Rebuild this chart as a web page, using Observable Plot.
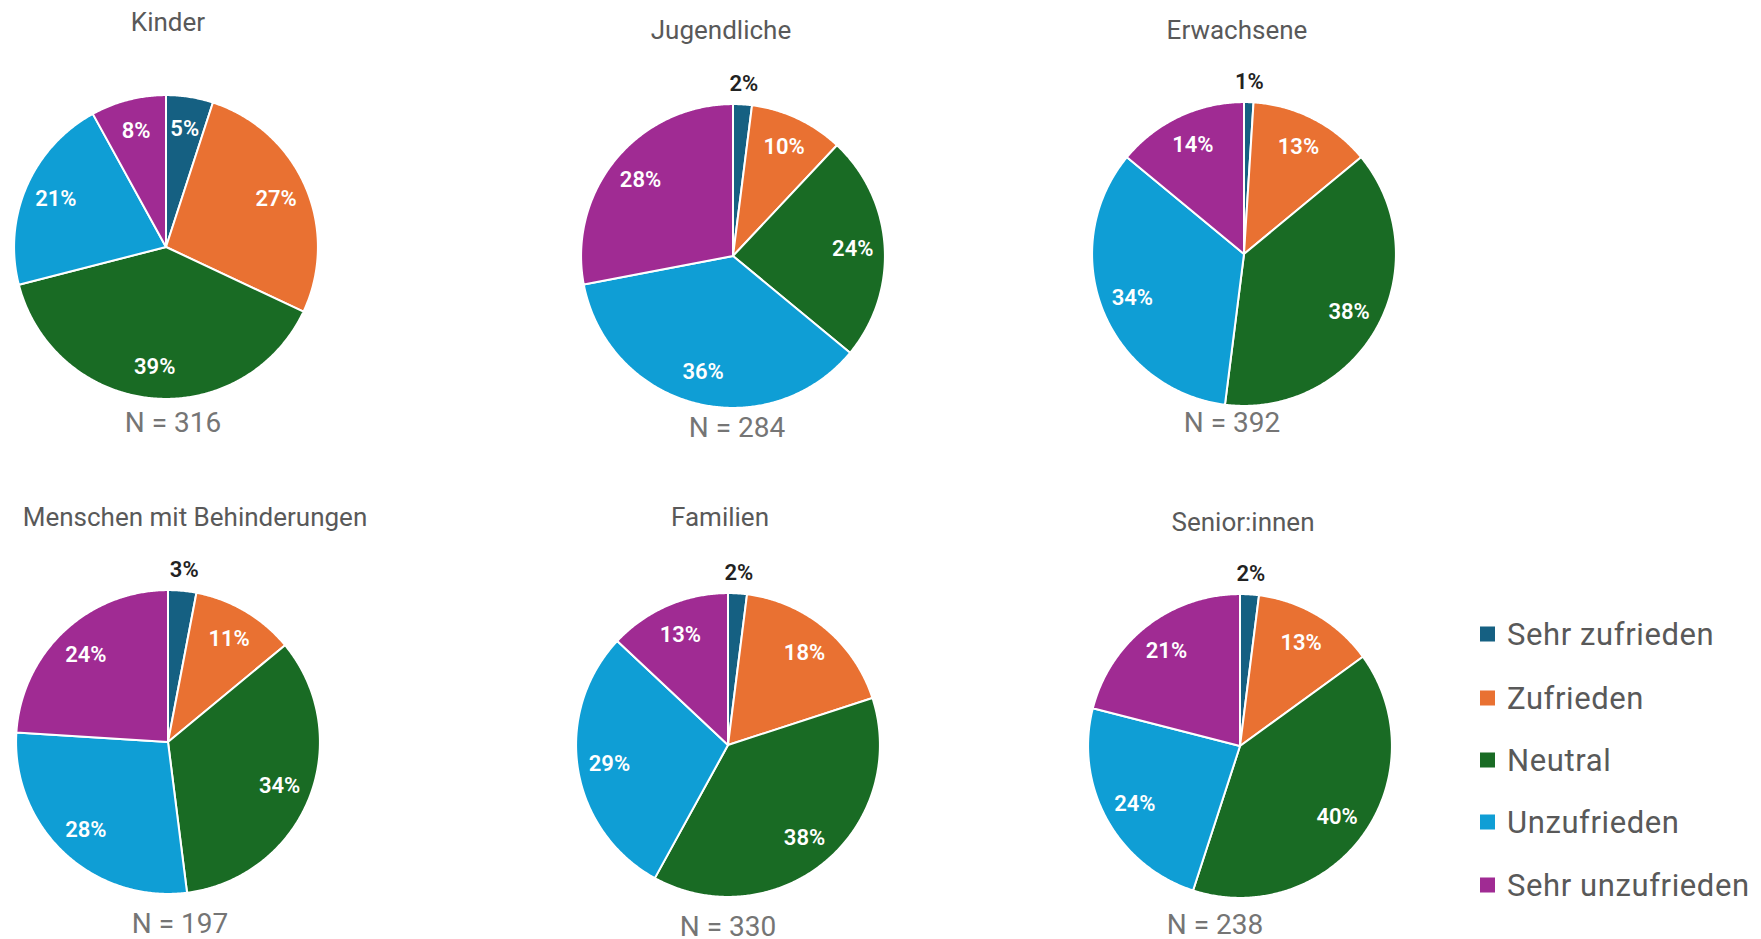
<!DOCTYPE html>
<html>
<head>
<meta charset="utf-8">
<script src="https://cdn.jsdelivr.net/npm/d3@7"></script>
<script src="https://cdn.jsdelivr.net/npm/@observablehq/plot@0.6"></script>
<style>
  html, body { margin: 0; padding: 0; background: #fff; }
  #root { position: relative; width: 1761px; height: 939px; overflow: hidden; font-family: Roboto, "Open Sans", sans-serif; }
  .title { position: absolute; transform: translate(-50%, -50%); white-space: nowrap; font-size: 26px; font-weight: 400; color: #595959; }
  .nlab { position: absolute; transform: translate(-50%, -50%); white-space: nowrap; font-size: 28px; color: #757575; }
  .pie { position: absolute; }
  .legend { position: absolute; left: 1480px; top: 0; }
  .legend .item { position: absolute; left: 0; white-space: nowrap; display: flex; align-items: center; font-size: 31px; letter-spacing: 0.6px; color: #595959; transform: translateY(-50%); }
  .legend .sw { width: 15px; height: 15px; margin-right: 12px; }
</style>
</head>
<body>
<div id="root"></div>
<script>
// ---- data ----
const categories = ["Sehr zufrieden", "Zufrieden", "Neutral", "Unzufrieden", "Sehr unzufrieden"];
const colors = ["#156082", "#E97132", "#196B24", "#0F9ED5", "#A02B93"];
const groups = ["Kinder", "Jugendliche", "Erwachsene", "Menschen mit Behinderungen", "Familien", "Senior:innen"];
const nValues = [316, 284, 392, 197, 330, 238];
const kinder = [5, 27, 39, 21, 8];
const jugendliche = [2, 10, 24, 36, 28];
const erwachsene = [1, 13, 38, 34, 14];
const behinderungen = [3, 11, 34, 28, 24];
const familien = [2, 18, 38, 29, 13];
const seniorinnen = [2, 13, 40, 24, 21];
const seriesValues = [kinder, jugendliche, erwachsene, behinderungen, familien, seniorinnen];

// ---- layout (pixel placement of each panel) ----
const layout = [
  {cx: 165, cy: 246, tx: 168, ty: 22, nx: 173, ny: 422},
  {cx: 732, cy: 255, tx: 721, ty: 30, nx: 737, ny: 427},
  {cx: 1243, cy: 253, tx: 1237, ty: 30, nx: 1232, ny: 422},
  {cx: 167, cy: 741, tx: 195, ty: 517, nx: 180, ny: 923},
  {cx: 727, cy: 744, tx: 720, ty: 517, nx: 728, ny: 926},
  {cx: 1239, cy: 745, tx: 1243, ty: 522, nx: 1215, ny: 924}
];
const R = 152;          // pie radius in px
const K = 1.3;          // half-extent of the unit domain
const SIZE = Math.round(2 * R * K);
const legendY = [634, 698, 760, 822, 885];

const root = document.getElementById("root");

groups.forEach((g, gi) => {
  const vals = seriesValues[gi];
  const total = d3.sum(vals);
  const L = layout[gi];
  // wedges in unit coordinates (angle measured clockwise from top)
  const pts = [];
  const labels = [];
  let acc = 0;
  vals.forEach((v, i) => {
    const a0 = acc / total * 2 * Math.PI;
    const a1 = (acc + v) / total * 2 * Math.PI;
    acc += v;
    const key = categories[i];
    pts.push({key, x: 0, y: 0});
    const steps = Math.max(2, Math.ceil((a1 - a0) / (Math.PI / 360)));
    for (let s = 0; s <= steps; s++) {
      const a = a0 + (a1 - a0) * s / steps;
      pts.push({key, x: Math.sin(a), y: Math.cos(a)});
    }
    pts.push({key, x: 0, y: 0});
    const am = (a0 + a1) / 2;
    const inside = v >= 4;
    const rr = inside ? 0.79 : 1.135;
    labels.push({key, text: v + "%", inside, x: rr * Math.sin(am), y: rr * Math.cos(am)});
  });

  const chart = Plot.plot({
    width: SIZE, height: SIZE, margin: 0,
    x: {domain: [-K, K], axis: null},
    y: {domain: [-K, K], axis: null},
    color: {domain: categories, range: colors},
    style: {background: "transparent", overflow: "visible"},
    marks: [
      Plot.line(pts, {x: "x", y: "y", z: "key", fill: "key", stroke: "white", strokeWidth: 2, strokeLinejoin: "round"}),
      Plot.text(labels.filter(d => d.inside), {x: "x", y: "y", text: "text", fill: "white", fontSize: 22, fontWeight: 600, fontFamily: "Roboto, sans-serif"}),
      Plot.text(labels.filter(d => !d.inside), {x: "x", y: "y", text: "text", fill: "#222", fontSize: 22, fontWeight: 600, fontFamily: "Roboto, sans-serif"})
    ]
  });
  chart.classList.add("pie");
  chart.style.left = (L.cx - SIZE / 2) + "px";
  chart.style.top = (L.cy - SIZE / 2) + "px";
  root.appendChild(chart);

  const t = document.createElement("div");
  t.className = "title";
  t.textContent = g;
  t.style.left = L.tx + "px";
  t.style.top = L.ty + "px";
  root.appendChild(t);

  const n = document.createElement("div");
  n.className = "nlab";
  n.textContent = "N = " + nValues[gi];
  n.style.left = L.nx + "px";
  n.style.top = L.ny + "px";
  root.appendChild(n);
});

// legend
const lg = document.createElement("div");
lg.className = "legend";
categories.forEach((c, i) => {
  const it = document.createElement("div");
  it.className = "item";
  it.style.top = legendY[i] + "px";
  const sw = document.createElement("span");
  sw.className = "sw";
  sw.style.background = colors[i];
  const tx = document.createElement("span");
  tx.textContent = c;
  it.appendChild(sw);
  it.appendChild(tx);
  lg.appendChild(it);
});
root.appendChild(lg);
</script>
</body>
</html>
